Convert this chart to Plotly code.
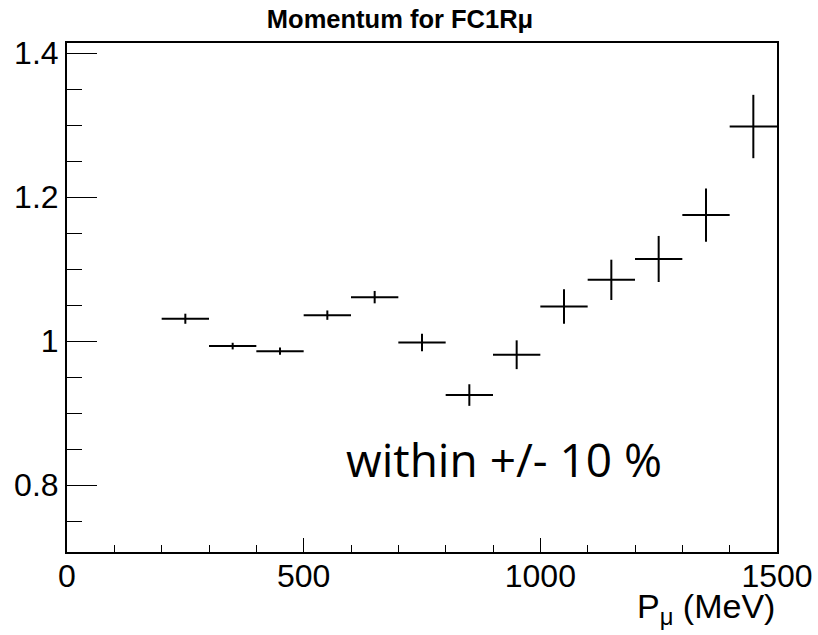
import plotly.graph_objects as go

bin_centers = [250, 350, 450, 550, 650, 750, 850, 950, 1050, 1150, 1250, 1350, 1450]
bin_half_width = [50] * 13
ratio = [1.031, 0.993, 0.986, 1.036, 1.061, 0.998, 0.925, 0.981, 1.048, 1.085, 1.114, 1.175, 1.298]
ratio_err = [0.007, 0.0046, 0.005, 0.0065, 0.0086, 0.012, 0.015, 0.020, 0.024, 0.028, 0.032, 0.037, 0.044]

fig = go.Figure()
fig.add_trace(go.Scatter(
    x=bin_centers, y=ratio, mode="markers",
    marker=dict(size=1, color="black"),
    error_x=dict(type="data", array=bin_half_width, visible=True, width=0, thickness=2, color="black"),
    error_y=dict(type="data", array=ratio_err, visible=True, width=0, thickness=2, color="black"),
    showlegend=False,
))

font_main = "Liberation Sans, Arial, sans-serif"

fig.update_layout(
    width=818, height=635,
    margin=dict(l=67, r=41, t=43, b=83),
    paper_bgcolor="white", plot_bgcolor="white",
    title=dict(text="<b>Momentum for FC1Rμ</b>", x=400 / 818, xref="container", xanchor="center",
               y=1 - 19 / 635, yref="container", yanchor="middle",
               font=dict(family=font_main, size=25.5, color="black")),
    xaxis=dict(range=[0, 1500], showgrid=False, zeroline=False, automargin=False,
               showline=True, linewidth=2, linecolor="black", mirror=True,
               ticks="inside", ticklen=14, tickwidth=1, tickcolor="black",
               tickvals=[0, 500, 1000, 1500], ticklabelstandoff=-5,
               minor=dict(dtick=100, ticks="inside", ticklen=7, tickwidth=1, tickcolor="black"),
               tickfont=dict(family=font_main, size=32, color="black")),
    yaxis=dict(range=[0.707, 1.414], showgrid=False, zeroline=False, automargin=False,
               showline=True, linewidth=2, linecolor="black", mirror=True,
               ticks="inside", ticklen=30, tickwidth=1, tickcolor="black",
               tickvals=[0.8, 1.0, 1.2, 1.4], ticktext=["0.8", "1", "1.2", "1.4"],
               minor=dict(dtick=0.05, tick0=0.7, ticks="inside", ticklen=15, tickwidth=1, tickcolor="black"),
               tickfont=dict(family=font_main, size=32, color="black")),
)

fig.add_annotation(text="P<sub>μ</sub> (MeV)", xref="paper", yref="paper",
                   x=1, y=-(608 - 552) / 509, xanchor="right", yanchor="middle",
                   showarrow=False, font=dict(family=font_main, size=34, color="black"))

fig.add_annotation(text="within +/- 10 %", xref="x", yref="y",
                   x=923, y=0.836, xanchor="center", yanchor="middle",
                   showarrow=False, font=dict(family="Open Sans, sans-serif", size=46, color="black"))

fig.write_html("out.html")
